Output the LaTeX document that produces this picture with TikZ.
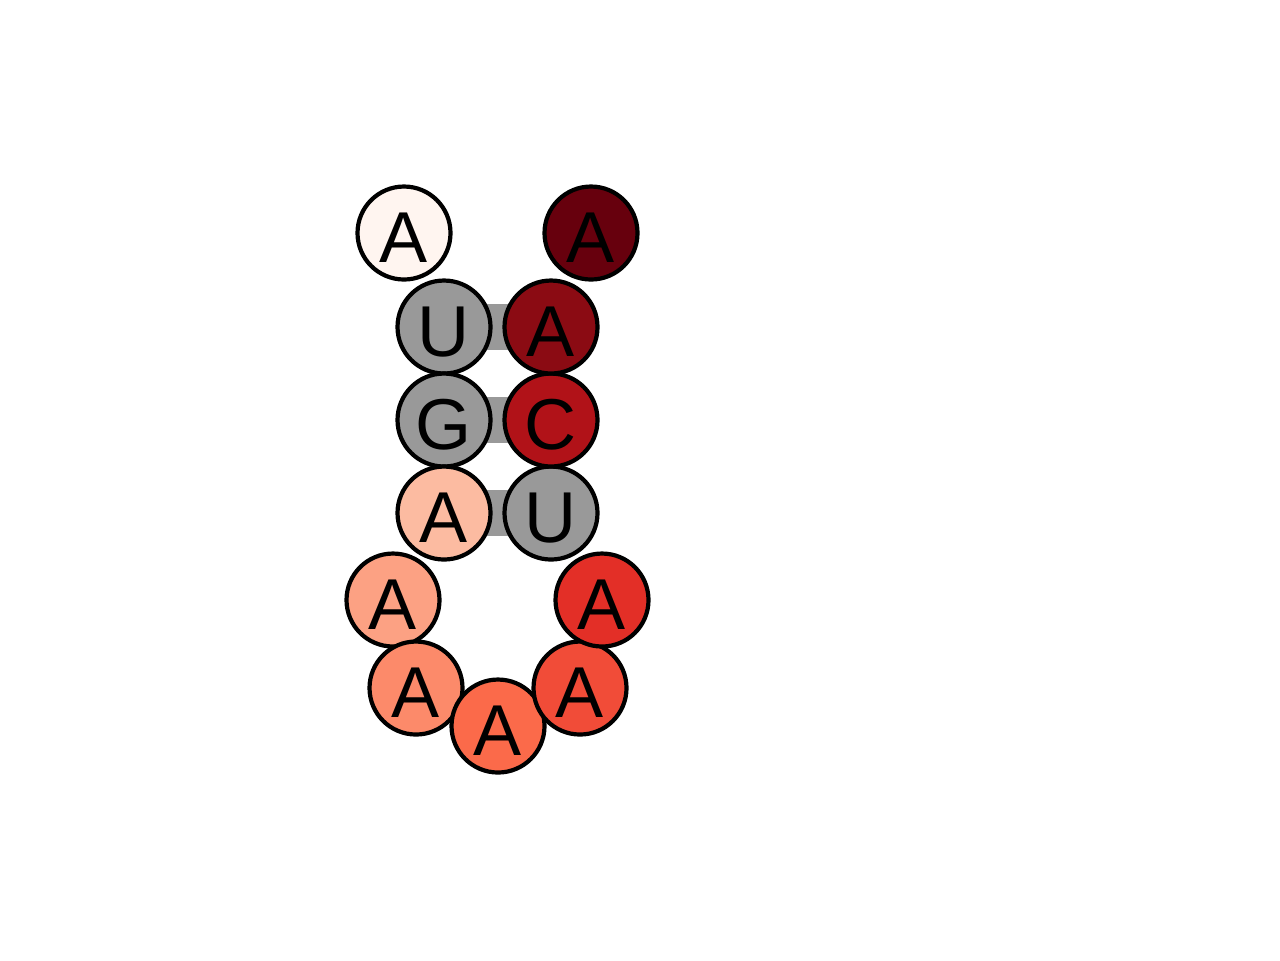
\documentclass[tikz,border=0pt]{standalone}
\usepackage{fontspec}
\setmainfont{Liberation Sans}
\usepackage{xcolor}
\definecolor{cPair}{HTML}{999999}
\definecolor{cR0}{HTML}{FFF5F0}
\definecolor{cR3}{HTML}{FCBBA1}
\definecolor{cR4}{HTML}{FCA183}
\definecolor{cR5}{HTML}{FC8A6A}
\definecolor{cR6}{HTML}{FB6A4A}
\definecolor{cR7}{HTML}{F14C38}
\definecolor{cR8}{HTML}{E32F27}
\definecolor{cR10}{HTML}{B11218}
\definecolor{cR11}{HTML}{8B0B13}
\definecolor{cR12}{HTML}{67000D}
\usetikzlibrary{backgrounds}
\tikzset{
  nt-base/.style={draw=black,line width=0.042cm,circle,inner sep=0pt,
    minimum size=0.93cm,font=\fontsize{20.5}{24}\selectfont,
    text height=0.59cm,text depth=0pt},
  nt-paired/.style={nt-base,fill=cPair},
  pair-bar/.style={draw=cPair,line width=0.46cm,line cap=butt},
}
\begin{document}
\begin{tikzpicture}
  \useasboundingbox (0,0) rectangle (12.8,-9.6);
  % 5' stem side
  \node[nt-base,fill=cR0]  (n1)  at (4.04,-2.33) {A};
  \node[nt-paired]         (n2)  at (4.44,-3.27) {U};
  \node[nt-paired]         (n3)  at (4.44,-4.20) {G};
  \node[nt-base,fill=cR3]  (n4)  at (4.44,-5.13) {A};
  % hairpin loop
  \node[nt-base,fill=cR4]  (n5)  at (3.93,-6.00) {A};
  \node[nt-base,fill=cR5]  (n6)  at (4.16,-6.88) {A};
  \node[nt-base,fill=cR6]  (n7)  at (4.98,-7.26) {A};
  \node[nt-base,fill=cR7]  (n8)  at (5.80,-6.88) {A};
  \node[nt-base,fill=cR8]  (n9)  at (6.02,-6.00) {A};
  % 3' stem side
  \node[nt-paired]         (n10) at (5.51,-5.13) {U};
  \node[nt-base,fill=cR10] (n11) at (5.51,-4.20) {C};
  \node[nt-base,fill=cR11] (n12) at (5.51,-3.27) {A};
  \node[nt-base,fill=cR12] (n13) at (5.91,-2.33) {A};
  \begin{scope}[on background layer]
    \draw[pair-bar] (n2.center) -- (n12.center);
    \draw[pair-bar] (n3.center) -- (n11.center);
    \draw[pair-bar] (n4.center) -- (n10.center);
  \end{scope}
\end{tikzpicture}
\end{document}
